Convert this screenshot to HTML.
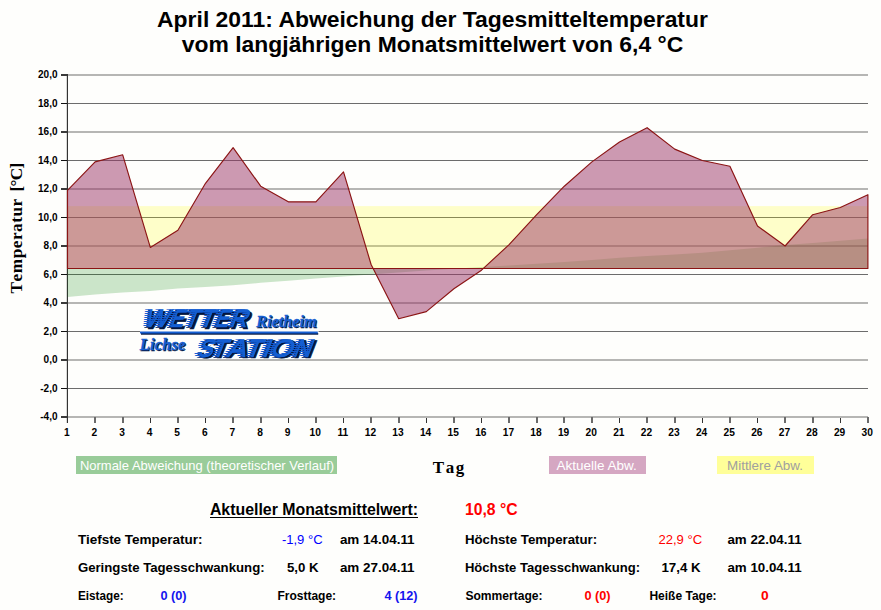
<!DOCTYPE html>
<html><head><meta charset="utf-8"><title>April 2011</title>
<style>
html,body{margin:0;padding:0;background:#fefefc;}
body{width:881px;height:610px;overflow:hidden;font-family:"Liberation Sans",sans-serif;}
svg{display:block}
text{font-family:"Liberation Sans",sans-serif;}
.b{font-weight:bold}
.serif{font-family:"Liberation Serif",serif;font-weight:bold}
</style></head><body>
<svg width="881" height="610" viewBox="0 0 881 610">
<rect x="0" y="0" width="881" height="610" fill="#fefefc"/>
<text class="b" x="432.5" y="26.9" font-size="22.9" text-anchor="middle" fill="#000">April 2011: Abweichung der Tagesmitteltemperatur</text>
<text class="b" x="432.5" y="51.8" font-size="22.9" text-anchor="middle" fill="#000">vom langjährigen Monatsmittelwert von 6,4 °C</text>
<g shape-rendering="crispEdges">
<rect x="66" y="74" width="1" height="349" fill="#d8d8d6"/>
<rect x="68" y="74" width="800" height="2" fill="#b6b6b4"/>
<rect x="61" y="74" width="7" height="2" fill="#3a3a3a"/>
<rect x="68" y="103" width="800" height="1" fill="#6c6c6c"/>
<rect x="61" y="103" width="7" height="1" fill="#111"/>
<rect x="68" y="131" width="800" height="2" fill="#b6b6b4"/>
<rect x="61" y="131" width="7" height="2" fill="#3a3a3a"/>
<rect x="68" y="160" width="800" height="1" fill="#6c6c6c"/>
<rect x="61" y="160" width="7" height="1" fill="#111"/>
<rect x="68" y="188" width="800" height="2" fill="#b6b6b4"/>
<rect x="61" y="188" width="7" height="2" fill="#3a3a3a"/>
<rect x="68" y="217" width="800" height="1" fill="#6c6c6c"/>
<rect x="61" y="217" width="7" height="1" fill="#111"/>
<rect x="68" y="245" width="800" height="2" fill="#b6b6b4"/>
<rect x="61" y="245" width="7" height="2" fill="#3a3a3a"/>
<rect x="68" y="274" width="800" height="1" fill="#6c6c6c"/>
<rect x="61" y="274" width="7" height="1" fill="#111"/>
<rect x="68" y="302" width="800" height="2" fill="#b6b6b4"/>
<rect x="61" y="302" width="7" height="2" fill="#3a3a3a"/>
<rect x="68" y="331" width="800" height="1" fill="#6c6c6c"/>
<rect x="61" y="331" width="7" height="1" fill="#111"/>
<rect x="68" y="359" width="800" height="2" fill="#b6b6b4"/>
<rect x="61" y="359" width="7" height="2" fill="#3a3a3a"/>
<rect x="68" y="388" width="800" height="1" fill="#6c6c6c"/>
<rect x="61" y="388" width="7" height="1" fill="#111"/>
<rect x="68" y="416" width="800" height="2" fill="#b6b6b4"/>
<rect x="61" y="416" width="7" height="2" fill="#3a3a3a"/>
</g>
<g shape-rendering="crispEdges">
<rect x="67" y="74" width="1" height="349" fill="#333"/>
<rect x="94" y="417" width="2" height="6" fill="#6a6a6a"/>
<rect x="122" y="417" width="2" height="6" fill="#6a6a6a"/>
<rect x="150" y="418" width="1" height="5" fill="#333"/>
<rect x="177" y="417" width="2" height="6" fill="#6a6a6a"/>
<rect x="205" y="418" width="1" height="5" fill="#333"/>
<rect x="232" y="417" width="2" height="6" fill="#6a6a6a"/>
<rect x="260" y="417" width="2" height="6" fill="#6a6a6a"/>
<rect x="288" y="418" width="1" height="5" fill="#333"/>
<rect x="315" y="417" width="2" height="6" fill="#6a6a6a"/>
<rect x="343" y="418" width="1" height="5" fill="#333"/>
<rect x="370" y="417" width="2" height="6" fill="#6a6a6a"/>
<rect x="398" y="417" width="2" height="6" fill="#6a6a6a"/>
<rect x="426" y="418" width="1" height="5" fill="#333"/>
<rect x="453" y="417" width="2" height="6" fill="#6a6a6a"/>
<rect x="481" y="418" width="1" height="5" fill="#333"/>
<rect x="508" y="417" width="2" height="6" fill="#6a6a6a"/>
<rect x="536" y="417" width="2" height="6" fill="#6a6a6a"/>
<rect x="563" y="417" width="2" height="6" fill="#6a6a6a"/>
<rect x="591" y="417" width="2" height="6" fill="#6a6a6a"/>
<rect x="619" y="418" width="1" height="5" fill="#333"/>
<rect x="646" y="417" width="2" height="6" fill="#6a6a6a"/>
<rect x="674" y="417" width="2" height="6" fill="#6a6a6a"/>
<rect x="702" y="418" width="1" height="5" fill="#333"/>
<rect x="729" y="417" width="2" height="6" fill="#6a6a6a"/>
<rect x="757" y="418" width="1" height="5" fill="#333"/>
<rect x="784" y="417" width="2" height="6" fill="#6a6a6a"/>
<rect x="812" y="417" width="2" height="6" fill="#6a6a6a"/>
<rect x="840" y="418" width="1" height="5" fill="#333"/>
<rect x="867" y="417" width="2" height="6" fill="#6a6a6a"/>
</g>
<polygon points="67.5,268.5 67.5,296.9 95.1,294.4 122.7,292.5 150.3,291.0 177.9,288.5 205.5,287.1 233.1,285.2 260.7,282.8 288.3,280.7 315.9,278.6 343.5,276.6 371.1,274.5 398.7,272.6 426.3,270.6 453.9,268.7 481.5,267.1 509.1,265.4 536.7,263.7 564.3,262.0 591.9,259.9 619.5,257.8 647.1,256.1 674.7,254.4 702.3,252.7 729.9,250.2 757.5,247.7 785.1,245.1 812.7,243.0 840.3,240.8 867.9,238.6 867.9,268.5" fill="#008000" fill-opacity="0.2"/>
<rect x="67.5" y="206.1" width="800.4" height="62.4" fill="#ffff00" fill-opacity="0.2"/>
<polygon points="67.5,268.5 67.5,190.4 95.1,161.9 122.7,154.8 150.3,247.4 177.9,230.3 205.5,183.3 233.1,147.7 260.7,186.2 288.3,201.8 315.9,201.8 343.5,171.9 371.1,264.5 398.7,318.7 426.3,311.6 453.9,288.8 481.5,270.2 509.1,244.6 536.7,214.7 564.3,186.2 591.9,161.9 619.5,142.0 647.1,127.7 674.7,149.1 702.3,160.5 729.9,166.2 757.5,226.0 785.1,246.0 812.7,214.7 840.3,207.5 867.9,194.7 867.9,268.5" fill="#993366" fill-opacity="0.5" stroke="#8b1414" stroke-width="1.15" stroke-linejoin="round"/>
<text class="b" x="57.5" y="78.3" font-size="10" text-anchor="end" fill="#000">20,0</text>
<text class="b" x="57.5" y="106.8" font-size="10" text-anchor="end" fill="#000">18,0</text>
<text class="b" x="57.5" y="135.3" font-size="10" text-anchor="end" fill="#000">16,0</text>
<text class="b" x="57.5" y="163.8" font-size="10" text-anchor="end" fill="#000">14,0</text>
<text class="b" x="57.5" y="192.3" font-size="10" text-anchor="end" fill="#000">12,0</text>
<text class="b" x="57.5" y="220.8" font-size="10" text-anchor="end" fill="#000">10,0</text>
<text class="b" x="57.5" y="249.3" font-size="10" text-anchor="end" fill="#000">8,0</text>
<text class="b" x="57.5" y="277.8" font-size="10" text-anchor="end" fill="#000">6,0</text>
<text class="b" x="57.5" y="306.3" font-size="10" text-anchor="end" fill="#000">4,0</text>
<text class="b" x="57.5" y="334.8" font-size="10" text-anchor="end" fill="#000">2,0</text>
<text class="b" x="57.5" y="363.3" font-size="10" text-anchor="end" fill="#000">0,0</text>
<text class="b" x="57.5" y="391.8" font-size="10" text-anchor="end" fill="#000">-2,0</text>
<text class="b" x="57.5" y="420.3" font-size="10" text-anchor="end" fill="#000">-4,0</text>
<text class="b" x="66.8" y="436" font-size="10.2" text-anchor="middle" fill="#000">1</text>
<text class="b" x="94.4" y="436" font-size="10.2" text-anchor="middle" fill="#000">2</text>
<text class="b" x="122.0" y="436" font-size="10.2" text-anchor="middle" fill="#000">3</text>
<text class="b" x="149.6" y="436" font-size="10.2" text-anchor="middle" fill="#000">4</text>
<text class="b" x="177.2" y="436" font-size="10.2" text-anchor="middle" fill="#000">5</text>
<text class="b" x="204.8" y="436" font-size="10.2" text-anchor="middle" fill="#000">6</text>
<text class="b" x="232.4" y="436" font-size="10.2" text-anchor="middle" fill="#000">7</text>
<text class="b" x="260.0" y="436" font-size="10.2" text-anchor="middle" fill="#000">8</text>
<text class="b" x="287.6" y="436" font-size="10.2" text-anchor="middle" fill="#000">9</text>
<text class="b" x="315.2" y="436" font-size="10.2" text-anchor="middle" fill="#000">10</text>
<text class="b" x="342.8" y="436" font-size="10.2" text-anchor="middle" fill="#000">11</text>
<text class="b" x="370.4" y="436" font-size="10.2" text-anchor="middle" fill="#000">12</text>
<text class="b" x="398.0" y="436" font-size="10.2" text-anchor="middle" fill="#000">13</text>
<text class="b" x="425.6" y="436" font-size="10.2" text-anchor="middle" fill="#000">14</text>
<text class="b" x="453.2" y="436" font-size="10.2" text-anchor="middle" fill="#000">15</text>
<text class="b" x="480.8" y="436" font-size="10.2" text-anchor="middle" fill="#000">16</text>
<text class="b" x="508.4" y="436" font-size="10.2" text-anchor="middle" fill="#000">17</text>
<text class="b" x="536.0" y="436" font-size="10.2" text-anchor="middle" fill="#000">18</text>
<text class="b" x="563.6" y="436" font-size="10.2" text-anchor="middle" fill="#000">19</text>
<text class="b" x="591.2" y="436" font-size="10.2" text-anchor="middle" fill="#000">20</text>
<text class="b" x="618.8" y="436" font-size="10.2" text-anchor="middle" fill="#000">21</text>
<text class="b" x="646.4" y="436" font-size="10.2" text-anchor="middle" fill="#000">22</text>
<text class="b" x="674.0" y="436" font-size="10.2" text-anchor="middle" fill="#000">23</text>
<text class="b" x="701.6" y="436" font-size="10.2" text-anchor="middle" fill="#000">24</text>
<text class="b" x="729.2" y="436" font-size="10.2" text-anchor="middle" fill="#000">25</text>
<text class="b" x="756.8" y="436" font-size="10.2" text-anchor="middle" fill="#000">26</text>
<text class="b" x="784.4" y="436" font-size="10.2" text-anchor="middle" fill="#000">27</text>
<text class="b" x="812.0" y="436" font-size="10.2" text-anchor="middle" fill="#000">28</text>
<text class="b" x="839.6" y="436" font-size="10.2" text-anchor="middle" fill="#000">29</text>
<text class="b" x="867.2" y="436" font-size="10.2" text-anchor="middle" fill="#000">30</text>
<g transform="translate(22.3,0) rotate(-90)" style="font-kerning:none"><text class="serif" font-size="17.3" x="-293.4" y="0" textLength="94.6" fill="#000">Temperatur</text><text class="serif" font-size="17.3" x="-191.4" y="0" textLength="28.6" fill="#000">[°C]</text></g>
<text class="serif" x="448.5" y="472.8" font-size="17" text-anchor="middle" fill="#000" style="font-kerning:none" textLength="31.6">Tag</text>
<rect x="76" y="456" width="261" height="18" fill="#99cc99"/>
<text x="79.9" y="469.5" font-size="13.4" textLength="254.2" lengthAdjust="spacingAndGlyphs" fill="#fff">Normale Abweichung (theoretischer Verlauf)</text>
<rect x="549" y="456" width="97" height="18" fill="#d5a7c2"/>
<text x="596.7" y="469.6" font-size="13.5" text-anchor="middle" fill="#fff">Aktuelle Abw.</text>
<rect x="717" y="456" width="97" height="18" fill="#ffff99"/>
<text x="765" y="469.6" font-size="13.4" text-anchor="middle" fill="#a0a0a0">Mittlere Abw.</text>
<text class="b" x="209.9" y="515" font-size="16" fill="#000" textLength="208.2" lengthAdjust="spacingAndGlyphs">Aktueller Monatsmittelwert:</text>
<rect x="210" y="517" width="208" height="1" fill="#000" shape-rendering="crispEdges"/>
<text class="b" x="464.9" y="515" font-size="16" fill="#ff0000" textLength="52.7" lengthAdjust="spacingAndGlyphs">10,8 °C</text>
<text class="b" x="77.9" y="544" font-size="13.4" fill="#000" textLength="124.7" lengthAdjust="spacingAndGlyphs">Tiefste Temperatur:</text>
<text class="b" x="281.9" y="544" font-size="13.4" fill="#0000ff" textLength="40.7" lengthAdjust="spacingAndGlyphs" style="font-weight:normal">-1,9 °C</text>
<text class="b" x="339.9" y="544" font-size="13.4" fill="#000" textLength="74.7" lengthAdjust="spacingAndGlyphs">am 14.04.11</text>
<text class="b" x="464.9" y="544" font-size="13.4" fill="#000" textLength="132.2" lengthAdjust="spacingAndGlyphs">Höchste Temperatur:</text>
<text class="b" x="658.4" y="544" font-size="13.4" fill="#ff0000" textLength="43.7" lengthAdjust="spacingAndGlyphs" style="font-weight:normal">22,9 °C</text>
<text class="b" x="727.4" y="544" font-size="13.4" fill="#000" textLength="74.2" lengthAdjust="spacingAndGlyphs">am 22.04.11</text>
<text class="b" x="77.9" y="572" font-size="13.4" fill="#000" textLength="186.7" lengthAdjust="spacingAndGlyphs">Geringste Tagesschwankung:</text>
<text class="b" x="286.9" y="572" font-size="13.4" fill="#000" textLength="31.7" lengthAdjust="spacingAndGlyphs">5,0 K</text>
<text class="b" x="339.9" y="572" font-size="13.4" fill="#000" textLength="74.7" lengthAdjust="spacingAndGlyphs">am 27.04.11</text>
<text class="b" x="464.9" y="572" font-size="13.4" fill="#000" textLength="175.2" lengthAdjust="spacingAndGlyphs">Höchste Tagesschwankung:</text>
<text class="b" x="661.4" y="572" font-size="13.4" fill="#000" textLength="39.2" lengthAdjust="spacingAndGlyphs">17,4 K</text>
<text class="b" x="727.4" y="572" font-size="13.4" fill="#000" textLength="74.2" lengthAdjust="spacingAndGlyphs">am 10.04.11</text>
<text class="b" x="77.9" y="600" font-size="12" fill="#000" textLength="45.7" lengthAdjust="spacingAndGlyphs">Eistage:</text>
<text class="b" x="160.4" y="600" font-size="12" fill="#1414ee" textLength="26.2" lengthAdjust="spacingAndGlyphs">0 (0)</text>
<text class="b" x="277.4" y="600" font-size="12" fill="#000" textLength="58.7" lengthAdjust="spacingAndGlyphs">Frosttage:</text>
<text class="b" x="384.4" y="600" font-size="12" fill="#1414ee" textLength="33.2" lengthAdjust="spacingAndGlyphs">4 (12)</text>
<text class="b" x="465.4" y="600" font-size="12" fill="#000" textLength="77.2" lengthAdjust="spacingAndGlyphs">Sommertage:</text>
<text class="b" x="584.4" y="600" font-size="12" fill="#ff0000" textLength="26.2" lengthAdjust="spacingAndGlyphs">0 (0)</text>
<text class="b" x="649.4" y="600" font-size="12" fill="#000" textLength="67.2" lengthAdjust="spacingAndGlyphs">Heiße Tage:</text>
<text class="b" x="760.9" y="600" font-size="12" fill="#ff0000" textLength="7.7" lengthAdjust="spacingAndGlyphs">0</text>
<rect x="140" y="329" width="178.5" height="4" fill="#fefefc"/>
<defs><clipPath id="st1"><rect x="130" y="309.00" width="200" height="1.0"/><rect x="130" y="311.00" width="200" height="1.0"/><rect x="130" y="313.00" width="200" height="1.0"/><rect x="130" y="315.00" width="200" height="1.0"/><rect x="130" y="317.00" width="200" height="1.0"/><rect x="130" y="319.00" width="200" height="1.0"/><rect x="130" y="321.00" width="200" height="1.0"/><rect x="130" y="323.00" width="200" height="1.0"/><rect x="130" y="325.00" width="200" height="1.0"/><rect x="130" y="327.00" width="200" height="1.0"/></clipPath><clipPath id="st2"><rect x="130" y="339.00" width="200" height="1.0"/><rect x="130" y="341.00" width="200" height="1.0"/><rect x="130" y="343.00" width="200" height="1.0"/><rect x="130" y="345.00" width="200" height="1.0"/><rect x="130" y="347.00" width="200" height="1.0"/><rect x="130" y="349.00" width="200" height="1.0"/><rect x="130" y="351.00" width="200" height="1.0"/><rect x="130" y="353.00" width="200" height="1.0"/><rect x="130" y="355.00" width="200" height="1.0"/><rect x="130" y="357.00" width="200" height="1.0"/></clipPath><clipPath id="dk1"><rect x="130" y="310.00" width="200" height="1.0"/><rect x="130" y="312.00" width="200" height="1.0"/><rect x="130" y="314.00" width="200" height="1.0"/><rect x="130" y="316.00" width="200" height="1.0"/><rect x="130" y="318.00" width="200" height="1.0"/><rect x="130" y="320.00" width="200" height="1.0"/><rect x="130" y="322.00" width="200" height="1.0"/><rect x="130" y="324.00" width="200" height="1.0"/><rect x="130" y="326.00" width="200" height="1.0"/><rect x="130" y="328.00" width="200" height="1.0"/></clipPath><clipPath id="dk2"><rect x="130" y="340.00" width="200" height="1.0"/><rect x="130" y="342.00" width="200" height="1.0"/><rect x="130" y="344.00" width="200" height="1.0"/><rect x="130" y="346.00" width="200" height="1.0"/><rect x="130" y="348.00" width="200" height="1.0"/><rect x="130" y="350.00" width="200" height="1.0"/><rect x="130" y="352.00" width="200" height="1.0"/><rect x="130" y="354.00" width="200" height="1.0"/><rect x="130" y="356.00" width="200" height="1.0"/><rect x="130" y="358.00" width="200" height="1.0"/></clipPath><clipPath id="cW0"><text class="b" transform="translate(0,327.0) skewX(-21)" font-size="25.4" x="141.4" y="0" textLength="25.4" lengthAdjust="spacingAndGlyphs" fill="#000" stroke="#000" stroke-width="0.4" >W</text></clipPath><clipPath id="cW1"><text class="b" transform="translate(0,327.0) skewX(-21)" font-size="25.4" x="167.2" y="0" textLength="15.2" lengthAdjust="spacingAndGlyphs" fill="#000" stroke="#000" stroke-width="0.4" >E</text></clipPath><clipPath id="cW2"><text class="b" transform="translate(0,327.0) skewX(-21)" font-size="25.4" x="182.0" y="0" textLength="15.0" lengthAdjust="spacingAndGlyphs" fill="#000" stroke="#000" stroke-width="0.4" >T</text></clipPath><clipPath id="cW3"><text class="b" transform="translate(0,327.0) skewX(-21)" font-size="25.4" x="196.6" y="0" textLength="16.4" lengthAdjust="spacingAndGlyphs" fill="#000" stroke="#000" stroke-width="0.4" >T</text></clipPath><clipPath id="cW4"><text class="b" transform="translate(0,327.0) skewX(-21)" font-size="25.4" x="212.6" y="0" textLength="15.0" lengthAdjust="spacingAndGlyphs" fill="#000" stroke="#000" stroke-width="0.4" >E</text></clipPath><clipPath id="cW5"><text class="b" transform="translate(0,327.0) skewX(-21)" font-size="25.4" x="227.4" y="0" textLength="18.6" lengthAdjust="spacingAndGlyphs" fill="#000" stroke="#000" stroke-width="0.4" >R</text></clipPath><clipPath id="cS0"><text class="b" transform="translate(0,356.8) skewX(-21)" font-size="25.4" x="195.2" y="0" textLength="16.4" lengthAdjust="spacingAndGlyphs" fill="#000" stroke="#000" stroke-width="0.4" >S</text></clipPath><clipPath id="cS1"><text class="b" transform="translate(0,356.8) skewX(-21)" font-size="25.4" x="208.8" y="0" textLength="16.4" lengthAdjust="spacingAndGlyphs" fill="#000" stroke="#000" stroke-width="0.4" >T</text></clipPath><clipPath id="cS2"><text class="b" transform="translate(0,356.8) skewX(-21)" font-size="25.4" x="223.6" y="0" textLength="22.4" lengthAdjust="spacingAndGlyphs" fill="#000" stroke="#000" stroke-width="0.4" >A</text></clipPath><clipPath id="cS3"><text class="b" transform="translate(0,356.8) skewX(-21)" font-size="25.4" x="242.4" y="0" textLength="17.4" lengthAdjust="spacingAndGlyphs" fill="#000" stroke="#000" stroke-width="0.4" >T</text></clipPath><clipPath id="cS4"><text class="b" transform="translate(0,356.8) skewX(-21)" font-size="25.4" x="259.8" y="0" textLength="8.2" lengthAdjust="spacingAndGlyphs" fill="#000" stroke="#000" stroke-width="0.4" >I</text></clipPath><clipPath id="cS5"><text class="b" transform="translate(0,356.8) skewX(-21)" font-size="25.4" x="267.2" y="0" textLength="24.2" lengthAdjust="spacingAndGlyphs" fill="#000" stroke="#000" stroke-width="0.4" >O</text></clipPath><clipPath id="cS6"><text class="b" transform="translate(0,356.8) skewX(-21)" font-size="25.4" x="290.8" y="0" textLength="19.0" lengthAdjust="spacingAndGlyphs" fill="#000" stroke="#000" stroke-width="0.4" >N</text></clipPath></defs>
<g><text class="b" transform="translate(2.2,328.5) skewX(-21)" font-size="25.4" x="141.4" y="0" textLength="25.4" lengthAdjust="spacingAndGlyphs" fill="#04163f" stroke="#04163f" stroke-width="0.7" >W</text><text class="b" transform="translate(2.2,328.5) skewX(-21)" font-size="25.4" x="167.2" y="0" textLength="15.2" lengthAdjust="spacingAndGlyphs" fill="#04163f" stroke="#04163f" stroke-width="0.7" >E</text><text class="b" transform="translate(2.2,328.5) skewX(-21)" font-size="25.4" x="182.0" y="0" textLength="15.0" lengthAdjust="spacingAndGlyphs" fill="#04163f" stroke="#04163f" stroke-width="0.7" >T</text><text class="b" transform="translate(2.2,328.5) skewX(-21)" font-size="25.4" x="196.6" y="0" textLength="16.4" lengthAdjust="spacingAndGlyphs" fill="#04163f" stroke="#04163f" stroke-width="0.7" >T</text><text class="b" transform="translate(2.2,328.5) skewX(-21)" font-size="25.4" x="212.6" y="0" textLength="15.0" lengthAdjust="spacingAndGlyphs" fill="#04163f" stroke="#04163f" stroke-width="0.7" >E</text><text class="b" transform="translate(2.2,328.5) skewX(-21)" font-size="25.4" x="227.4" y="0" textLength="18.6" lengthAdjust="spacingAndGlyphs" fill="#04163f" stroke="#04163f" stroke-width="0.7" >R</text></g>
<g clip-path="url(#st1)"><text class="b" transform="translate(-1.6,328.0) skewX(-21)" font-size="25.4" x="141.4" y="0" textLength="25.4" lengthAdjust="spacingAndGlyphs" fill="#04163f" stroke="#04163f" stroke-width="0.3" opacity='0.8'>W</text><text class="b" transform="translate(-1.6,328.0) skewX(-21)" font-size="25.4" x="167.2" y="0" textLength="15.2" lengthAdjust="spacingAndGlyphs" fill="#04163f" stroke="#04163f" stroke-width="0.3" opacity='0.8'>E</text><text class="b" transform="translate(-1.6,328.0) skewX(-21)" font-size="25.4" x="182.0" y="0" textLength="15.0" lengthAdjust="spacingAndGlyphs" fill="#04163f" stroke="#04163f" stroke-width="0.3" opacity='0.8'>T</text><text class="b" transform="translate(-1.6,328.0) skewX(-21)" font-size="25.4" x="196.6" y="0" textLength="16.4" lengthAdjust="spacingAndGlyphs" fill="#04163f" stroke="#04163f" stroke-width="0.3" opacity='0.8'>T</text><text class="b" transform="translate(-1.6,328.0) skewX(-21)" font-size="25.4" x="212.6" y="0" textLength="15.0" lengthAdjust="spacingAndGlyphs" fill="#04163f" stroke="#04163f" stroke-width="0.3" opacity='0.8'>E</text><text class="b" transform="translate(-1.6,328.0) skewX(-21)" font-size="25.4" x="227.4" y="0" textLength="18.6" lengthAdjust="spacingAndGlyphs" fill="#04163f" stroke="#04163f" stroke-width="0.3" opacity='0.8'>R</text><text class="b" transform="translate(-3.0,327.0) skewX(-21)" font-size="25.4" x="141.4" y="0" textLength="25.4" lengthAdjust="spacingAndGlyphs" fill="#145ed2" stroke="#145ed2" stroke-width="0.2" >W</text><text class="b" transform="translate(-3.0,327.0) skewX(-21)" font-size="25.4" x="167.2" y="0" textLength="15.2" lengthAdjust="spacingAndGlyphs" fill="#145ed2" stroke="#145ed2" stroke-width="0.2" >E</text><text class="b" transform="translate(-3.0,327.0) skewX(-21)" font-size="25.4" x="182.0" y="0" textLength="15.0" lengthAdjust="spacingAndGlyphs" fill="#145ed2" stroke="#145ed2" stroke-width="0.2" >T</text><text class="b" transform="translate(-3.0,327.0) skewX(-21)" font-size="25.4" x="196.6" y="0" textLength="16.4" lengthAdjust="spacingAndGlyphs" fill="#145ed2" stroke="#145ed2" stroke-width="0.2" >T</text><text class="b" transform="translate(-3.0,327.0) skewX(-21)" font-size="25.4" x="212.6" y="0" textLength="15.0" lengthAdjust="spacingAndGlyphs" fill="#145ed2" stroke="#145ed2" stroke-width="0.2" >E</text><text class="b" transform="translate(-3.0,327.0) skewX(-21)" font-size="25.4" x="227.4" y="0" textLength="18.6" lengthAdjust="spacingAndGlyphs" fill="#145ed2" stroke="#145ed2" stroke-width="0.2" >R</text></g>
<g><text class="b" transform="translate(0,327.0) skewX(-21)" font-size="25.4" x="141.4" y="0" textLength="25.4" lengthAdjust="spacingAndGlyphs" fill="#145ed2" stroke="#145ed2" stroke-width="0.4" >W</text><text class="b" transform="translate(0,327.0) skewX(-21)" font-size="25.4" x="167.2" y="0" textLength="15.2" lengthAdjust="spacingAndGlyphs" fill="#145ed2" stroke="#145ed2" stroke-width="0.4" >E</text><text class="b" transform="translate(0,327.0) skewX(-21)" font-size="25.4" x="182.0" y="0" textLength="15.0" lengthAdjust="spacingAndGlyphs" fill="#145ed2" stroke="#145ed2" stroke-width="0.4" >T</text><text class="b" transform="translate(0,327.0) skewX(-21)" font-size="25.4" x="196.6" y="0" textLength="16.4" lengthAdjust="spacingAndGlyphs" fill="#145ed2" stroke="#145ed2" stroke-width="0.4" >T</text><text class="b" transform="translate(0,327.0) skewX(-21)" font-size="25.4" x="212.6" y="0" textLength="15.0" lengthAdjust="spacingAndGlyphs" fill="#145ed2" stroke="#145ed2" stroke-width="0.4" >E</text><text class="b" transform="translate(0,327.0) skewX(-21)" font-size="25.4" x="227.4" y="0" textLength="18.6" lengthAdjust="spacingAndGlyphs" fill="#145ed2" stroke="#145ed2" stroke-width="0.4" >R</text></g>
<g clip-path="url(#cW0)"><g clip-path="url(#dk1)"><rect x="130" y="305.0" width="200" height="26" fill="#04163f" opacity="0.42"/></g><text class="b" transform="translate(2.0,327.0) skewX(-21)" font-size="25.4" x="141.4" y="0" textLength="25.4" lengthAdjust="spacingAndGlyphs" fill="#145ed2" stroke="#145ed2" stroke-width="0.25" >W</text></g>
<g clip-path="url(#cW1)"><g clip-path="url(#dk1)"><rect x="130" y="305.0" width="200" height="26" fill="#04163f" opacity="0.42"/></g><text class="b" transform="translate(2.0,327.0) skewX(-21)" font-size="25.4" x="167.2" y="0" textLength="15.2" lengthAdjust="spacingAndGlyphs" fill="#145ed2" stroke="#145ed2" stroke-width="0.25" >E</text></g>
<g clip-path="url(#cW2)"><g clip-path="url(#dk1)"><rect x="130" y="305.0" width="200" height="26" fill="#04163f" opacity="0.42"/></g><text class="b" transform="translate(2.0,327.0) skewX(-21)" font-size="25.4" x="182.0" y="0" textLength="15.0" lengthAdjust="spacingAndGlyphs" fill="#145ed2" stroke="#145ed2" stroke-width="0.25" >T</text></g>
<g clip-path="url(#cW3)"><g clip-path="url(#dk1)"><rect x="130" y="305.0" width="200" height="26" fill="#04163f" opacity="0.42"/></g><text class="b" transform="translate(2.0,327.0) skewX(-21)" font-size="25.4" x="196.6" y="0" textLength="16.4" lengthAdjust="spacingAndGlyphs" fill="#145ed2" stroke="#145ed2" stroke-width="0.25" >T</text></g>
<g clip-path="url(#cW4)"><g clip-path="url(#dk1)"><rect x="130" y="305.0" width="200" height="26" fill="#04163f" opacity="0.42"/></g><text class="b" transform="translate(2.0,327.0) skewX(-21)" font-size="25.4" x="212.6" y="0" textLength="15.0" lengthAdjust="spacingAndGlyphs" fill="#145ed2" stroke="#145ed2" stroke-width="0.25" >E</text></g>
<g clip-path="url(#cW5)"><g clip-path="url(#dk1)"><rect x="130" y="305.0" width="200" height="26" fill="#04163f" opacity="0.42"/></g><text class="b" transform="translate(2.0,327.0) skewX(-21)" font-size="25.4" x="227.4" y="0" textLength="18.6" lengthAdjust="spacingAndGlyphs" fill="#145ed2" stroke="#145ed2" stroke-width="0.25" >R</text></g>
<g><text class="b" transform="translate(2.2,358.3) skewX(-21)" font-size="25.4" x="195.2" y="0" textLength="16.4" lengthAdjust="spacingAndGlyphs" fill="#04163f" stroke="#04163f" stroke-width="0.7" >S</text><text class="b" transform="translate(2.2,358.3) skewX(-21)" font-size="25.4" x="208.8" y="0" textLength="16.4" lengthAdjust="spacingAndGlyphs" fill="#04163f" stroke="#04163f" stroke-width="0.7" >T</text><text class="b" transform="translate(2.2,358.3) skewX(-21)" font-size="25.4" x="223.6" y="0" textLength="22.4" lengthAdjust="spacingAndGlyphs" fill="#04163f" stroke="#04163f" stroke-width="0.7" >A</text><text class="b" transform="translate(2.2,358.3) skewX(-21)" font-size="25.4" x="242.4" y="0" textLength="17.4" lengthAdjust="spacingAndGlyphs" fill="#04163f" stroke="#04163f" stroke-width="0.7" >T</text><text class="b" transform="translate(2.2,358.3) skewX(-21)" font-size="25.4" x="259.8" y="0" textLength="8.2" lengthAdjust="spacingAndGlyphs" fill="#04163f" stroke="#04163f" stroke-width="0.7" >I</text><text class="b" transform="translate(2.2,358.3) skewX(-21)" font-size="25.4" x="267.2" y="0" textLength="24.2" lengthAdjust="spacingAndGlyphs" fill="#04163f" stroke="#04163f" stroke-width="0.7" >O</text><text class="b" transform="translate(2.2,358.3) skewX(-21)" font-size="25.4" x="290.8" y="0" textLength="19.0" lengthAdjust="spacingAndGlyphs" fill="#04163f" stroke="#04163f" stroke-width="0.7" >N</text></g>
<g clip-path="url(#st2)"><text class="b" transform="translate(-1.6,357.8) skewX(-21)" font-size="25.4" x="195.2" y="0" textLength="16.4" lengthAdjust="spacingAndGlyphs" fill="#04163f" stroke="#04163f" stroke-width="0.3" opacity='0.8'>S</text><text class="b" transform="translate(-1.6,357.8) skewX(-21)" font-size="25.4" x="208.8" y="0" textLength="16.4" lengthAdjust="spacingAndGlyphs" fill="#04163f" stroke="#04163f" stroke-width="0.3" opacity='0.8'>T</text><text class="b" transform="translate(-1.6,357.8) skewX(-21)" font-size="25.4" x="223.6" y="0" textLength="22.4" lengthAdjust="spacingAndGlyphs" fill="#04163f" stroke="#04163f" stroke-width="0.3" opacity='0.8'>A</text><text class="b" transform="translate(-1.6,357.8) skewX(-21)" font-size="25.4" x="242.4" y="0" textLength="17.4" lengthAdjust="spacingAndGlyphs" fill="#04163f" stroke="#04163f" stroke-width="0.3" opacity='0.8'>T</text><text class="b" transform="translate(-1.6,357.8) skewX(-21)" font-size="25.4" x="259.8" y="0" textLength="8.2" lengthAdjust="spacingAndGlyphs" fill="#04163f" stroke="#04163f" stroke-width="0.3" opacity='0.8'>I</text><text class="b" transform="translate(-1.6,357.8) skewX(-21)" font-size="25.4" x="267.2" y="0" textLength="24.2" lengthAdjust="spacingAndGlyphs" fill="#04163f" stroke="#04163f" stroke-width="0.3" opacity='0.8'>O</text><text class="b" transform="translate(-1.6,357.8) skewX(-21)" font-size="25.4" x="290.8" y="0" textLength="19.0" lengthAdjust="spacingAndGlyphs" fill="#04163f" stroke="#04163f" stroke-width="0.3" opacity='0.8'>N</text><text class="b" transform="translate(-3.0,356.8) skewX(-21)" font-size="25.4" x="195.2" y="0" textLength="16.4" lengthAdjust="spacingAndGlyphs" fill="#145ed2" stroke="#145ed2" stroke-width="0.2" >S</text><text class="b" transform="translate(-3.0,356.8) skewX(-21)" font-size="25.4" x="208.8" y="0" textLength="16.4" lengthAdjust="spacingAndGlyphs" fill="#145ed2" stroke="#145ed2" stroke-width="0.2" >T</text><text class="b" transform="translate(-3.0,356.8) skewX(-21)" font-size="25.4" x="223.6" y="0" textLength="22.4" lengthAdjust="spacingAndGlyphs" fill="#145ed2" stroke="#145ed2" stroke-width="0.2" >A</text><text class="b" transform="translate(-3.0,356.8) skewX(-21)" font-size="25.4" x="242.4" y="0" textLength="17.4" lengthAdjust="spacingAndGlyphs" fill="#145ed2" stroke="#145ed2" stroke-width="0.2" >T</text><text class="b" transform="translate(-3.0,356.8) skewX(-21)" font-size="25.4" x="259.8" y="0" textLength="8.2" lengthAdjust="spacingAndGlyphs" fill="#145ed2" stroke="#145ed2" stroke-width="0.2" >I</text><text class="b" transform="translate(-3.0,356.8) skewX(-21)" font-size="25.4" x="267.2" y="0" textLength="24.2" lengthAdjust="spacingAndGlyphs" fill="#145ed2" stroke="#145ed2" stroke-width="0.2" >O</text><text class="b" transform="translate(-3.0,356.8) skewX(-21)" font-size="25.4" x="290.8" y="0" textLength="19.0" lengthAdjust="spacingAndGlyphs" fill="#145ed2" stroke="#145ed2" stroke-width="0.2" >N</text></g>
<g><text class="b" transform="translate(0,356.8) skewX(-21)" font-size="25.4" x="195.2" y="0" textLength="16.4" lengthAdjust="spacingAndGlyphs" fill="#145ed2" stroke="#145ed2" stroke-width="0.4" >S</text><text class="b" transform="translate(0,356.8) skewX(-21)" font-size="25.4" x="208.8" y="0" textLength="16.4" lengthAdjust="spacingAndGlyphs" fill="#145ed2" stroke="#145ed2" stroke-width="0.4" >T</text><text class="b" transform="translate(0,356.8) skewX(-21)" font-size="25.4" x="223.6" y="0" textLength="22.4" lengthAdjust="spacingAndGlyphs" fill="#145ed2" stroke="#145ed2" stroke-width="0.4" >A</text><text class="b" transform="translate(0,356.8) skewX(-21)" font-size="25.4" x="242.4" y="0" textLength="17.4" lengthAdjust="spacingAndGlyphs" fill="#145ed2" stroke="#145ed2" stroke-width="0.4" >T</text><text class="b" transform="translate(0,356.8) skewX(-21)" font-size="25.4" x="259.8" y="0" textLength="8.2" lengthAdjust="spacingAndGlyphs" fill="#145ed2" stroke="#145ed2" stroke-width="0.4" >I</text><text class="b" transform="translate(0,356.8) skewX(-21)" font-size="25.4" x="267.2" y="0" textLength="24.2" lengthAdjust="spacingAndGlyphs" fill="#145ed2" stroke="#145ed2" stroke-width="0.4" >O</text><text class="b" transform="translate(0,356.8) skewX(-21)" font-size="25.4" x="290.8" y="0" textLength="19.0" lengthAdjust="spacingAndGlyphs" fill="#145ed2" stroke="#145ed2" stroke-width="0.4" >N</text></g>
<g clip-path="url(#cS0)"><g clip-path="url(#dk2)"><rect x="130" y="334.8" width="200" height="26" fill="#04163f" opacity="0.42"/></g><text class="b" transform="translate(2.0,356.8) skewX(-21)" font-size="25.4" x="195.2" y="0" textLength="16.4" lengthAdjust="spacingAndGlyphs" fill="#145ed2" stroke="#145ed2" stroke-width="0.25" >S</text></g>
<g clip-path="url(#cS1)"><g clip-path="url(#dk2)"><rect x="130" y="334.8" width="200" height="26" fill="#04163f" opacity="0.42"/></g><text class="b" transform="translate(2.0,356.8) skewX(-21)" font-size="25.4" x="208.8" y="0" textLength="16.4" lengthAdjust="spacingAndGlyphs" fill="#145ed2" stroke="#145ed2" stroke-width="0.25" >T</text></g>
<g clip-path="url(#cS2)"><g clip-path="url(#dk2)"><rect x="130" y="334.8" width="200" height="26" fill="#04163f" opacity="0.42"/></g><text class="b" transform="translate(2.0,356.8) skewX(-21)" font-size="25.4" x="223.6" y="0" textLength="22.4" lengthAdjust="spacingAndGlyphs" fill="#145ed2" stroke="#145ed2" stroke-width="0.25" >A</text></g>
<g clip-path="url(#cS3)"><g clip-path="url(#dk2)"><rect x="130" y="334.8" width="200" height="26" fill="#04163f" opacity="0.42"/></g><text class="b" transform="translate(2.0,356.8) skewX(-21)" font-size="25.4" x="242.4" y="0" textLength="17.4" lengthAdjust="spacingAndGlyphs" fill="#145ed2" stroke="#145ed2" stroke-width="0.25" >T</text></g>
<g clip-path="url(#cS4)"><g clip-path="url(#dk2)"><rect x="130" y="334.8" width="200" height="26" fill="#04163f" opacity="0.42"/></g><text class="b" transform="translate(2.0,356.8) skewX(-21)" font-size="25.4" x="259.8" y="0" textLength="8.2" lengthAdjust="spacingAndGlyphs" fill="#145ed2" stroke="#145ed2" stroke-width="0.25" >I</text></g>
<g clip-path="url(#cS5)"><g clip-path="url(#dk2)"><rect x="130" y="334.8" width="200" height="26" fill="#04163f" opacity="0.42"/></g><text class="b" transform="translate(2.0,356.8) skewX(-21)" font-size="25.4" x="267.2" y="0" textLength="24.2" lengthAdjust="spacingAndGlyphs" fill="#145ed2" stroke="#145ed2" stroke-width="0.25" >O</text></g>
<g clip-path="url(#cS6)"><g clip-path="url(#dk2)"><rect x="130" y="334.8" width="200" height="26" fill="#04163f" opacity="0.42"/></g><text class="b" transform="translate(2.0,356.8) skewX(-21)" font-size="25.4" x="290.8" y="0" textLength="19.0" lengthAdjust="spacingAndGlyphs" fill="#145ed2" stroke="#145ed2" stroke-width="0.25" >N</text></g>
<rect x="141" y="333.0" width="177.2" height="1.7" fill="#04163f"/>
<rect x="140" y="331.5" width="177.8" height="2.0" fill="#145ed2"/>
<text x="257.3" y="327.7" class="serif" style="font-style:italic" font-size="16.3" textLength="60.4" lengthAdjust="spacing" fill="#04163f" stroke="#04163f" stroke-width="0.3">Rietheim</text>
<text x="256.3" y="326.8" class="serif" style="font-style:italic" font-size="16.3" textLength="60.4" lengthAdjust="spacing" fill="#145ed2" stroke="#145ed2" stroke-width="0.45">Rietheim</text>
<text x="140.8" y="350.9" class="serif" style="font-style:italic" font-size="16.3" textLength="45.5" lengthAdjust="spacing" fill="#04163f" stroke="#04163f" stroke-width="0.3">Lichse</text>
<text x="139.8" y="350.0" class="serif" style="font-style:italic" font-size="16.3" textLength="45.5" lengthAdjust="spacing" fill="#145ed2" stroke="#145ed2" stroke-width="0.45">Lichse</text>
</svg>
</body></html>
